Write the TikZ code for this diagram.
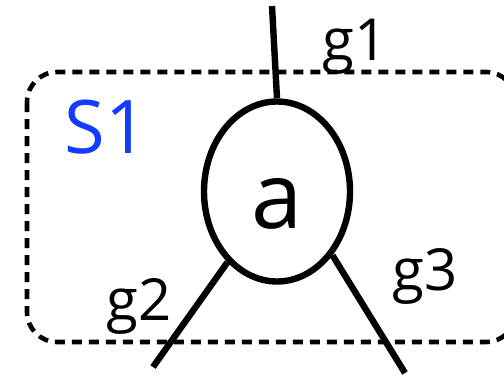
\documentclass[tikz,border=0pt]{standalone}
\usepackage{fontspec}
\setmainfont{Open Sans}
\usetikzlibrary{shapes.geometric}
\definecolor{setblue}{RGB}{20,60,255}
\begin{document}
\begin{tikzpicture}[x=0.5pt,y=-0.5pt,
  gate/.style={draw,ellipse,line width=3.2pt,minimum width=73pt,minimum height=90pt,inner sep=0pt,text height=37pt,text depth=0pt,font=\fontsize{46}{46}\selectfont},
  wire/.style={line width=3.2pt},
  lbl/.style={font=\fontsize{29}{29}\selectfont,inner sep=0pt}]
\clip (0,0) rectangle (504,376);
\draw[line width=2.3pt,dash pattern=on 5pt off 3.5pt,rounded corners=15pt] (27,72) rectangle (516,342);
\node[text=setblue,font=\fontsize{37}{37}\selectfont,inner sep=0pt] (s1) at (106,127) {S1};
\node[gate] (a) at (277,191.5) {a};
\coordinate (t1) at (272,6);
\coordinate (t2) at (153,367);
\coordinate (t3) at (405,373);
\draw[wire] (t1) -- (a.north);
\draw[wire] (a.235) -- (t2);
\draw[wire] (a.311) -- (t3);
\node[lbl,anchor=base] (g1) at (355,60) {g1};
\node[lbl,anchor=base] (g2) at (139,320) {g2};
\node[lbl,anchor=base] (g3) at (425,290) {g3};
\end{tikzpicture}
\end{document}
